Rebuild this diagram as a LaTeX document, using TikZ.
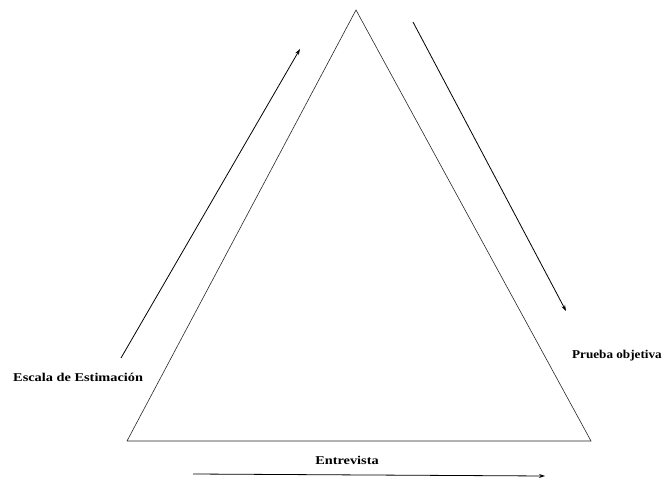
\documentclass[tikz,border=0pt]{standalone}
\usepackage{fontspec}
\setmainfont{Liberation Serif}
\usetikzlibrary{arrows.meta}
\begin{document}
\begin{tikzpicture}[x=1bp,y=-1bp,
  edge/.style={line width=0.6pt,black!85},
  flow/.style={line width=0.8pt,-{Stealth[length=6pt,width=4pt]}},
  lbl/.style={font=\bfseries\fontsize{12}{14}\selectfont,inner sep=0pt}]
\useasboundingbox (0,0) rectangle (668,480);
\coordinate (A) at (356,10);
\coordinate (B) at (127,441);
\coordinate (C) at (591,441);
\draw[edge] (A) -- (B) -- (C) -- cycle;
\coordinate (l1) at (121,358);
\coordinate (l2) at (300,49);
\draw[flow] (l1) -- (l2);
\coordinate (r1) at (413,22);
\coordinate (r2) at (566,311);
\draw[flow] (r1) -- (r2);
\coordinate (b1) at (193,474);
\coordinate (b2) at (545,476);
\draw[flow] (b1) -- (b2);
\node[lbl,anchor=west] (esc) at (13,377) {\scalebox{1.2}[1]{Escala de Estimación}};
\node[lbl,anchor=west] (pru) at (572,356) {\scalebox{1.1}[1]{Prueba objetiva}};
\node[lbl] (ent) at (347,460) {\scalebox{1.2}[1]{Entrevista}};
\end{tikzpicture}
\end{document}
